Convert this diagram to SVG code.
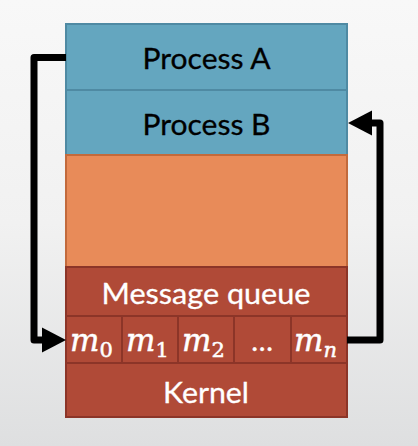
<svg xmlns="http://www.w3.org/2000/svg" width="418" height="446" viewBox="0 0 418 446">
  <defs>
    <linearGradient id="bg" x1="0" y1="0" x2="0" y2="1">
      <stop offset="0" stop-color="#f8f8f8"/>
      <stop offset="0.5" stop-color="#f1f1f1"/>
      <stop offset="1" stop-color="#dedfe0"/>
    </linearGradient>
    <style>
      .proc { fill: #64a6bf; stroke: #4f8aa3; stroke-width: 2; }
      .free { fill: #e88b59; stroke: #c26a3c; stroke-width: 2; }
      .kern { fill: #b04a37; stroke: #8c3528; stroke-width: 2; }
      .lbl { font-family: Lato, "Open Sans", "Liberation Sans", sans-serif; font-size: 29px; text-anchor: middle; stroke-width: 0.3; }
      .dark { fill: #000; stroke: #000; }
      .light { fill: #fff; stroke: #fff; }
      .math { font-family: "DejaVu Serif", "Liberation Serif", serif; font-style: italic; fill: #fff; stroke: #fff; stroke-width: 0.5; }
      .link { fill: none; stroke: #000; stroke-width: 7; stroke-linejoin: round; }
      .head { fill: #000; }
    </style>
  </defs>

  <rect width="418" height="446" fill="url(#bg)"/>

  <g id="process-a">
    <rect class="proc" x="66" y="24" width="281" height="66"/>
    <text class="lbl dark" x="206.5" y="69" textLength="128" lengthAdjust="spacingAndGlyphs">Process A</text>
  </g>

  <g id="process-b">
    <rect class="proc" x="66" y="90" width="281" height="65"/>
    <text class="lbl dark" x="206.5" y="135" textLength="128" lengthAdjust="spacingAndGlyphs">Process B</text>
  </g>

  <g id="free-space">
    <rect class="free" x="66" y="155" width="281" height="112"/>
  </g>

  <g id="message-queue">
    <rect class="kern" x="66" y="267" width="281" height="49"/>
    <text class="lbl light" x="206" y="304" textLength="209" lengthAdjust="spacingAndGlyphs">Message queue</text>
  </g>

  <g id="slot-m0">
    <rect class="kern" x="66" y="316" width="56" height="47"/>
    <text class="math" x="70" y="351" font-size="31">m<tspan font-size="21" font-style="normal" dy="6">0</tspan></text>
  </g>
  <g id="slot-m1">
    <rect class="kern" x="122" y="316" width="56" height="47"/>
    <text class="math" x="126" y="351" font-size="31">m<tspan font-size="21" font-style="normal" dy="6">1</tspan></text>
  </g>
  <g id="slot-m2">
    <rect class="kern" x="178" y="316" width="56" height="47"/>
    <text class="math" x="182" y="351" font-size="31">m<tspan font-size="21" font-style="normal" dy="6">2</tspan></text>
  </g>
  <g id="slot-dots">
    <rect class="kern" x="234" y="316" width="57" height="47"/>
    <text class="lbl light" x="262" y="351">…</text>
  </g>
  <g id="slot-mn">
    <rect class="kern" x="291" y="316" width="56" height="47"/>
    <text class="math" x="294" y="351" font-size="31">m<tspan font-size="21" dy="6">n</tspan></text>
  </g>

  <g id="kernel">
    <rect class="kern" x="66" y="363" width="281" height="54"/>
    <text class="lbl light" x="206" y="403" textLength="86" lengthAdjust="spacingAndGlyphs">Kernel</text>
  </g>

  <g id="connectors">
    <path class="link" d="M66,57.5 H34 V340 H46"/>
    <polygon class="head" points="66,340 42,327.5 42,352.5"/>
    <path class="link" d="M347,340 H380 V123 H368"/>
    <polygon class="head" points="348,123 372,110.5 372,135.5"/>
  </g>
</svg>
